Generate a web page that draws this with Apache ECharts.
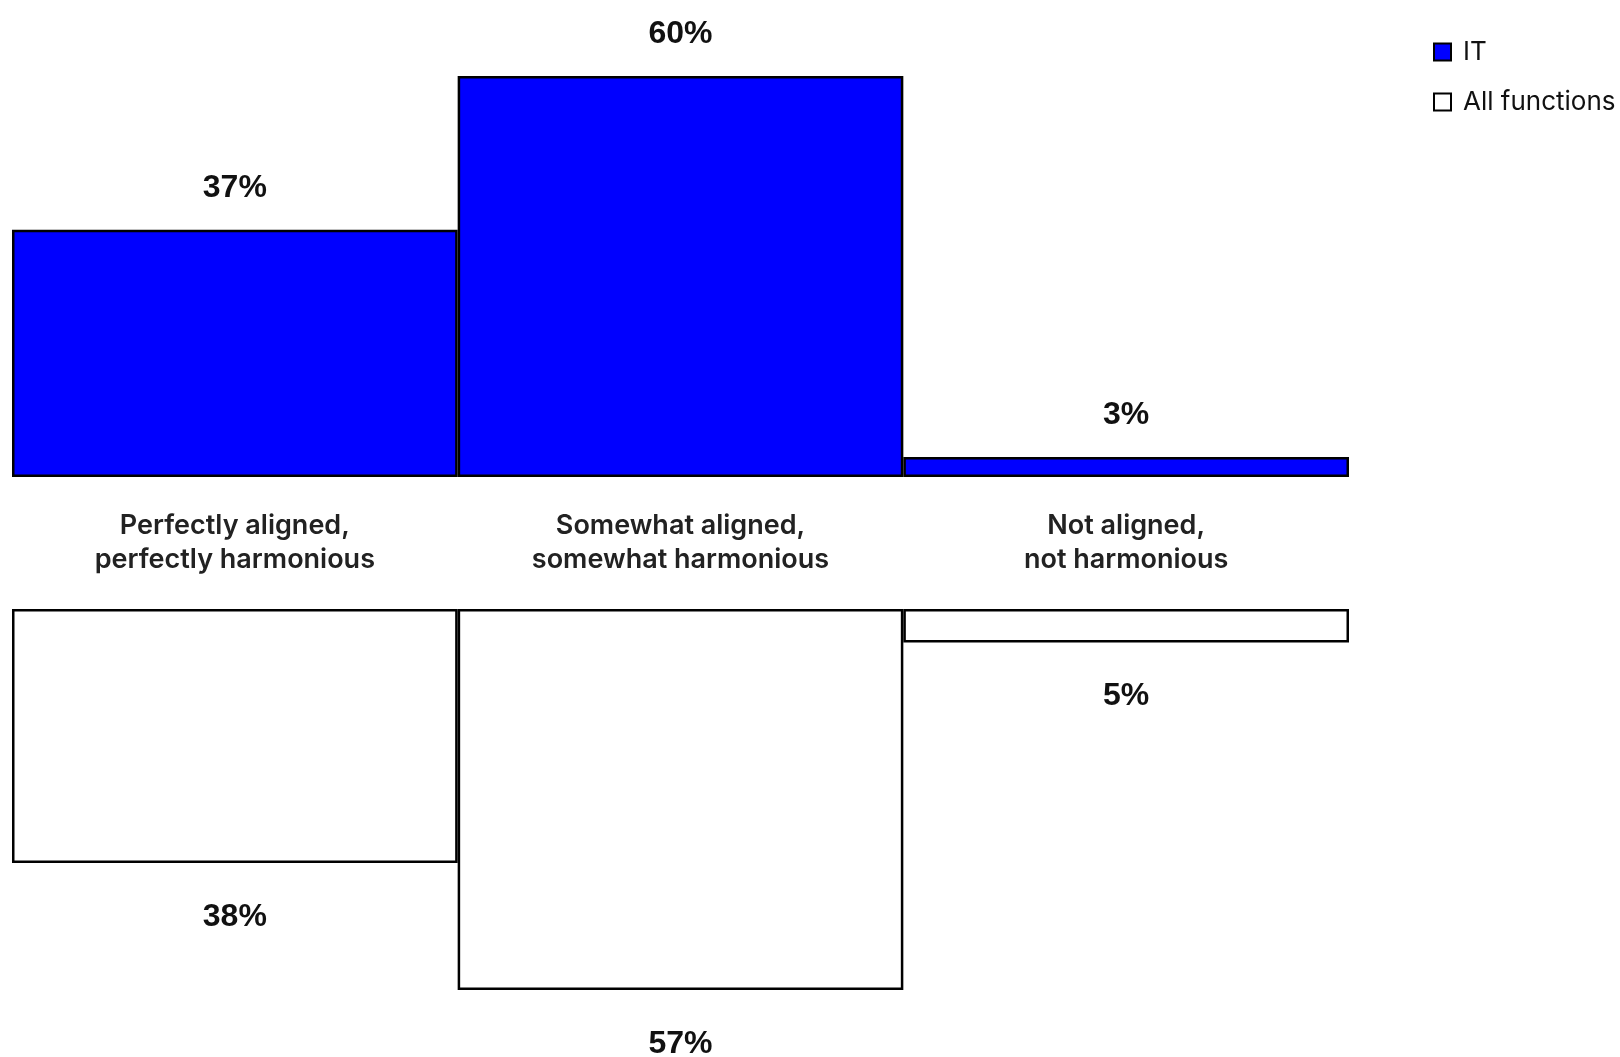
<!DOCTYPE html>
<html>
<head>
<meta charset="utf-8">
<title>Alignment: IT vs all functions</title>
<script src="https://cdn.jsdelivr.net/npm/echarts@6/dist/echarts.min.js"></script>
<style>
  html, body { margin: 0; padding: 0; background: #ffffff; }
  #chart { width: 1620px; height: 1057px; }
</style>
</head>
<body>
<div id="chart"></div>
<script>
// Answer categories (shared by both panels)
const categories = [
  'Perfectly aligned,\nperfectly harmonious',
  'Somewhat aligned,\nsomewhat harmonious',
  'Not aligned,\nnot harmonious'
];

// Share of respondents, in percent
const itValues = [37, 60, 3];
const allFunctionsValues = [38, 57, 5];

const seriesNames = ['IT', 'All functions'];

const valueLabelStyle = {
  show: true,
  formatter: '{c}%',
  fontFamily: 'Liberation Sans, Arial, sans-serif',
  fontWeight: 'bold',
  fontSize: 32,
  color: '#111111'
};

const chart = echarts.init(document.getElementById('chart'), null, { renderer: 'canvas' });

chart.setOption({
  animation: false,
  backgroundColor: '#ffffff',
  legend: {
    orient: 'vertical',
    left: 1428,
    top: 34,
    itemWidth: 17,
    itemHeight: 17,
    itemGap: 24,
    icon: 'rect',
    data: seriesNames,
    textStyle: {
      fontFamily: 'Inter, Open Sans, sans-serif',
      fontSize: 26,
      color: '#111111',
      padding: [0, 0, 0, 7]
    }
  },
  grid: [
    { left: 12, top: 76, width: 1337, height: 401 },
    { left: 12, top: 609, width: 1337, height: 401 }
  ],
  xAxis: [
    {
      type: 'category',
      gridIndex: 0,
      data: categories,
      axisLine: { show: false },
      axisTick: { show: false },
      axisLabel: {
        margin: 32,
        interval: 0,
        fontFamily: 'Inter, Open Sans, sans-serif',
        fontWeight: 600,
        fontSize: 27,
        lineHeight: 34,
        color: '#222222'
      }
    },
    {
      type: 'category',
      gridIndex: 1,
      position: 'top',
      data: categories,
      axisLine: { show: false },
      axisTick: { show: false },
      axisLabel: { show: false }
    }
  ],
  yAxis: [
    {
      type: 'value',
      gridIndex: 0,
      min: 0,
      max: 60,
      show: false,
      splitLine: { show: false }
    },
    {
      type: 'value',
      gridIndex: 1,
      min: 0,
      max: 60,
      inverse: true,
      show: false,
      splitLine: { show: false }
    }
  ],
  series: [
    {
      name: seriesNames[0],
      type: 'bar',
      xAxisIndex: 0,
      yAxisIndex: 0,
      data: itValues,
      barCategoryGap: '0%',
      itemStyle: { color: '#0000ff', borderColor: '#000000', borderWidth: 2.5 },
      label: Object.assign({}, valueLabelStyle, { position: 'top', distance: 26 })
    },
    {
      name: seriesNames[1],
      type: 'bar',
      xAxisIndex: 1,
      yAxisIndex: 1,
      data: allFunctionsValues,
      barCategoryGap: '0%',
      itemStyle: { color: '#ffffff', borderColor: '#000000', borderWidth: 2.5 },
      label: Object.assign({}, valueLabelStyle, { position: 'bottom', distance: 38 })
    }
  ]
});
</script>
</body>
</html>
